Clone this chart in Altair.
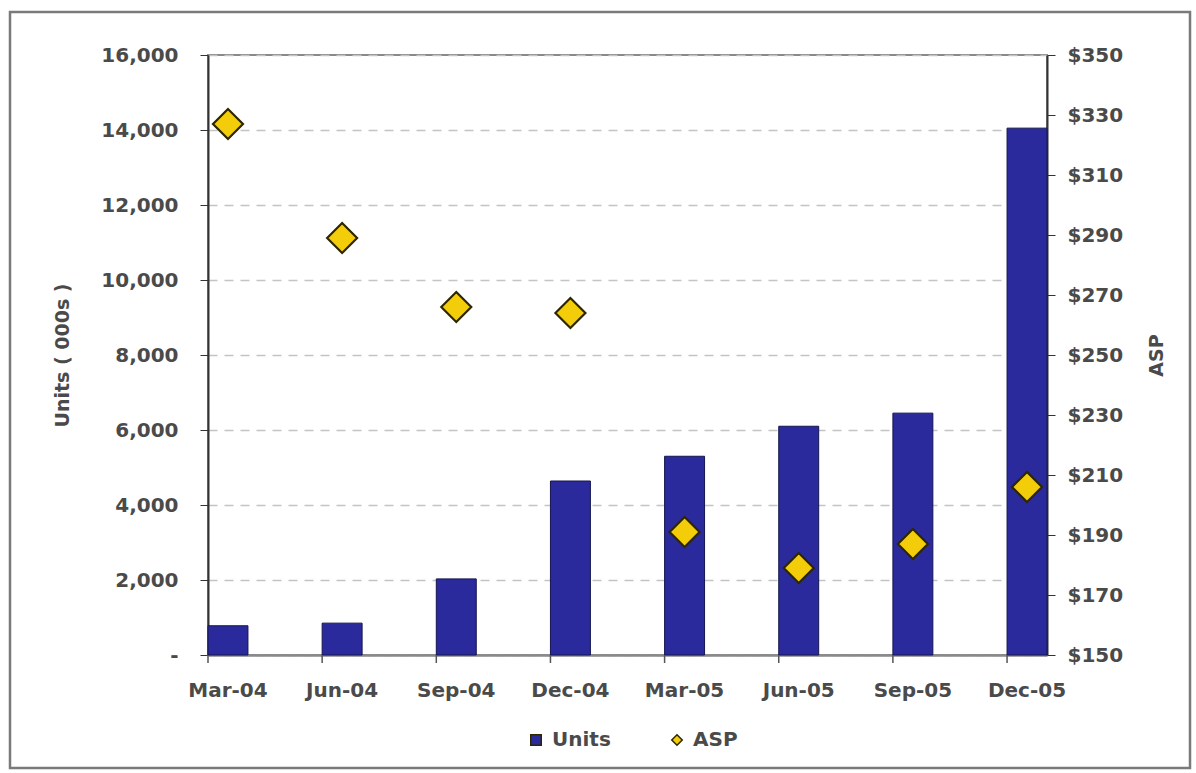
import altair as alt
import pandas as pd

categories = ["Mar-04", "Jun-04", "Sep-04", "Dec-04", "Mar-05", "Jun-05", "Sep-05", "Dec-05"]
units = [780, 850, 2030, 4640, 5300, 6100, 6450, 14050]
asp = [327, 289, 266, 264, 191, 179, 187, 206]
series_names = ["Units", "ASP"]
series_colors = ["#2A2A9C", "#F3CD0A"]
series_shapes = ["square", "diamond"]

df = pd.DataFrame({"cat": categories, "units": units, "asp": asp})
FONT = "DejaVu Sans"
TXT = "#4a4a4a"
FS = 20

xscale = alt.Scale(domain=categories, paddingInner=0.65, paddingOuter=0)
color_scale = alt.Scale(domain=series_names, range=series_colors)
shape_scale = alt.Scale(domain=series_names, range=series_shapes)

border = alt.Chart(pd.DataFrame({"k": [0]})).mark_rect(
    fill=None, stroke="#7a7a7a", strokeWidth=2.5
).encode(
    x=alt.value(-198), x2=alt.value(982), y=alt.value(-43), y2=alt.value(713)
)

bars = alt.Chart(df).transform_calculate(series="'Units'").mark_bar(
    stroke="#15154f", strokeWidth=1
).encode(
    x=alt.X("cat:N", scale=xscale, sort=categories,
            axis=alt.Axis(title=None, labelAngle=0, ticks=False, labelPadding=25,
                          domainColor="#8a8a8a", domainWidth=2.5,
                          labelFontSize=FS, labelColor=TXT, labelFont=FONT,
                          labelFontWeight="bold")),
    y=alt.Y("units:Q", scale=alt.Scale(domain=[0, 16000], nice=False),
            axis=alt.Axis(title="Units ( 000s )", orient="left", values=list(range(0, 16001, 2000)),
                          labelExpr="datum.value == 0 ? '-' : format(datum.value, ',')",
                          grid=True, gridDash=[9, 7], gridColor="#c4c4c4", gridWidth=1.5,
                          tickSize=8, tickColor="#333", labelPadding=22,
                          domainColor="#333", domainWidth=2,
                          labelFontSize=FS, labelColor=TXT, labelFont=FONT,
                          labelFontWeight="bold",
                          titleFontSize=19, titleColor=TXT, titleFont=FONT,
                          titleFontWeight="bold", titlePadding=28)),
    color=alt.Color("series:N", scale=color_scale,
                    legend=alt.Legend(title=None, orient="none", direction="horizontal",
                                      legendX=318, legendY=675, labelFontSize=FS,
                                      labelColor=TXT, labelFont=FONT, labelFontWeight="bold",
                                      symbolSize=110,
                                      symbolStrokeColor="#333", symbolStrokeWidth=1.5,
                                      columnPadding=56, labelOffset=6)),
)

xticks = alt.Chart(df).mark_rule(color="#555", strokeWidth=1.5).encode(
    x=alt.X("cat:N", scale=xscale, sort=categories, bandPosition=0),
    y=alt.value(600), y2=alt.value(608),
)

points = alt.Chart(df).transform_calculate(series="'ASP'").mark_point(
    filled=True, size=900, stroke="#2e2600", strokeWidth=2.2, opacity=1
).encode(
    x=alt.X("cat:N", scale=xscale, sort=categories),
    y=alt.Y("asp:Q", scale=alt.Scale(domain=[150, 350], nice=False),
            axis=alt.Axis(title="ASP", orient="right", values=list(range(150, 351, 20)),
                          format="$d", grid=False,
                          tickSize=8, tickColor="#333", labelPadding=12,
                          domainColor="#333", domainWidth=2,
                          labelFontSize=FS, labelColor=TXT, labelFont=FONT,
                          labelFontWeight="bold",
                          titleFontSize=19, titleColor=TXT, titleFont=FONT,
                          titleFontWeight="bold", titleAngle=270, titlePadding=44)),
    color=alt.Color("series:N", scale=color_scale),
    shape=alt.Shape("series:N", scale=shape_scale),
)

chart = alt.layer(border, bars, xticks, points).resolve_scale(
    y="independent"
).properties(
    width=839, height=600,
    padding={"left": 208, "top": 55, "right": 149, "bottom": 118},
    autosize=alt.AutoSizeParams(type="none"),
    background="white",
).configure_view(stroke="#8a8a8a", strokeWidth=2)

chart.save("out.html", embed_options={"renderer": "svg", "actions": False})
